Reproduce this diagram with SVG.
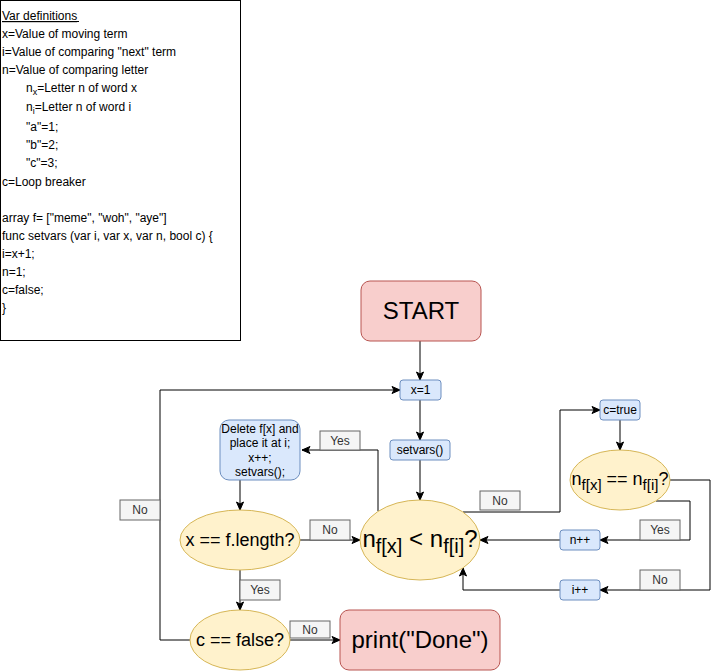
<svg xmlns="http://www.w3.org/2000/svg" width="720" height="671" viewBox="0 0 720 671">
<style>
text{font-family:"Liberation Sans",Arial,sans-serif;fill:#000}
.t12{font-size:12px}
.c{text-anchor:middle}
.blue{fill:#dae8fc;stroke:#6c8ebf;stroke-width:1}
.red{fill:#f8cecc;stroke:#b85450;stroke-width:1}
.yel{fill:#fff2cc;stroke:#d6b656;stroke-width:1}
.edge{fill:none;stroke:#000;stroke-width:1;marker-end:url(#arr)}
.lbl rect{fill:#f5f5f5;stroke:#666;stroke-width:1}
.lbl text{font-size:12px;fill:#333;text-anchor:middle}
</style>
<defs>
<marker id="arr" markerUnits="userSpaceOnUse" markerWidth="10" markerHeight="10" refX="9" refY="5" orient="auto">
<path d="M1,1.5 L9,5 L1,8.5 L3,5 Z" fill="#000" stroke="#000" stroke-width="1"/>
</marker>
</defs>
<rect width="720" height="671" fill="#fff"/>

<g id="vardefs">
<rect x="0.5" y="0.5" width="240" height="340" fill="#fff" stroke="#000"/>
<text class="t12" x="2" y="20" text-decoration="underline">Var definitions</text>
<line x1="2" y1="21.5" x2="79" y2="21.5" stroke="#000" stroke-width="1"/>
<text class="t12" x="2" y="38">x=Value of moving term</text>
<text class="t12" x="2" y="56">i=Value of comparing "next" term</text>
<text class="t12" x="2" y="74">n=Value of comparing letter</text>
<text class="t12" x="26" y="92">n<tspan font-size="9" dy="3">x</tspan><tspan dy="-3">=Letter n of word x</tspan></text>
<text class="t12" x="26" y="111">n<tspan font-size="9" dy="3">i</tspan><tspan dy="-3">=Letter n of word i</tspan></text>
<text class="t12" x="26" y="131">"a"=1;</text>
<text class="t12" x="26" y="149">"b"=2;</text>
<text class="t12" x="26" y="167">"c"=3;</text>
<text class="t12" x="2" y="186">c=Loop breaker</text>
<text class="t12" x="2" y="222">array f= ["meme", "woh", "aye"]</text>
<text class="t12" x="2" y="240">func setvars (var i, var x, var n, bool c) {</text>
<text class="t12" x="2" y="258">i=x+1;</text>
<text class="t12" x="2" y="276">n=1;</text>
<text class="t12" x="2" y="294">c=false;</text>
<text class="t12" x="2" y="312">}</text>
</g>

<g id="connectors">
<path class="edge" d="M420,341 V380"/>
<path class="edge" d="M420,400 V440"/>
<path class="edge" d="M420,460 V500"/>
<path class="edge" d="M463,512 H560 V410 H600"/>
<path class="edge" d="M620,420 V450"/>
<path class="edge" d="M670,480 H710 V590 H600"/>
<path class="edge" d="M656,501 H690 V540 H600"/>
<path class="edge" d="M560,540 H480"/>
<path class="edge" d="M560,590 H463 V568"/>
<path class="edge" d="M378,511 V450 H302"/>
<path class="edge" d="M240,480 V510"/>
<path class="edge" d="M300,540 H360"/>
<path class="edge" d="M240,570 V610"/>
<path class="edge" d="M290,640 H340"/>
<path class="edge" d="M190,640 H160 V390 H400"/>
<g class="lbl"><rect x="480" y="491" width="40" height="19"/><text x="500" y="505">No</text></g>
<g class="lbl"><rect x="640" y="520" width="40" height="20"/><text x="660" y="534">Yes</text></g>
<g class="lbl"><rect x="640" y="570" width="40" height="20"/><text x="660" y="584">No</text></g>
<g class="lbl"><rect x="320" y="431" width="40" height="19"/><text x="340" y="445">Yes</text></g>
<g class="lbl"><rect x="310" y="520" width="40" height="20"/><text x="330" y="534">No</text></g>
<g class="lbl"><rect x="240" y="580" width="40" height="20"/><text x="260" y="594">Yes</text></g>
<g class="lbl"><rect x="290" y="621" width="40" height="17"/><text x="310" y="634">No</text></g>
<g class="lbl"><rect x="120" y="500" width="40" height="20"/><text x="140" y="514">No</text></g>
</g>

<g id="start">
<rect class="red" x="361" y="281" width="120" height="60" rx="9"/>
<text class="c" x="421" y="319" font-size="24">START</text>
</g>
<g id="x1">
<rect class="blue" x="400" y="380" width="41" height="20" rx="3"/>
<text class="t12 c" x="420.5" y="394">x=1</text>
</g>
<g id="setvars">
<rect class="blue" x="390" y="440" width="60" height="20" rx="3"/>
<text class="t12 c" x="420" y="454">setvars()</text>
</g>
<g id="cmp">
<ellipse class="yel" cx="420" cy="540" rx="60" ry="40"/>
<text class="c" x="420" y="547" font-size="24">n<tspan font-size="20" dy="6">f[x]</tspan><tspan dy="-6"> &lt; n</tspan><tspan font-size="20" dy="6">f[i]</tspan><tspan dy="-6">?</tspan></text>
</g>
<g id="ctrue">
<rect class="blue" x="600" y="400" width="40" height="20" rx="3"/>
<text class="t12 c" x="620" y="414">c=true</text>
</g>
<g id="eq">
<ellipse class="yel" cx="620" cy="480" rx="50" ry="30"/>
<text class="c" x="620" y="485" font-size="18">n<tspan font-size="15" dy="5">f[x]</tspan><tspan dy="-5"> == n</tspan><tspan font-size="15" dy="5">f[i]</tspan><tspan dy="-5">?</tspan></text>
</g>
<g id="npp">
<rect class="blue" x="560" y="530" width="40" height="20" rx="3"/>
<text class="t12 c" x="580" y="544">n++</text>
</g>
<g id="ipp">
<rect class="blue" x="560" y="580" width="40" height="20" rx="3"/>
<text class="t12 c" x="580" y="594">i++</text>
</g>
<g id="delete">
<rect class="blue" x="220" y="420" width="80" height="60" rx="9"/>
<text class="t12 c" x="260" y="433">Delete f[x] and</text>
<text class="t12 c" x="260" y="447">place it at i;</text>
<text class="t12 c" x="260" y="462">x++;</text>
<text class="t12 c" x="260" y="476">setvars();</text>
</g>
<g id="xlen">
<ellipse class="yel" cx="240" cy="540" rx="60" ry="30"/>
<text class="c" x="240" y="546" font-size="18">x == f.length?</text>
</g>
<g id="cfalse">
<ellipse class="yel" cx="240" cy="640" rx="50" ry="30"/>
<text class="c" x="240" y="646" font-size="18">c == false?</text>
</g>
<g id="print">
<rect class="red" x="340" y="610" width="160" height="60" rx="9"/>
<text class="c" x="420" y="648" font-size="24">print("Done")</text>
</g>
</svg>
